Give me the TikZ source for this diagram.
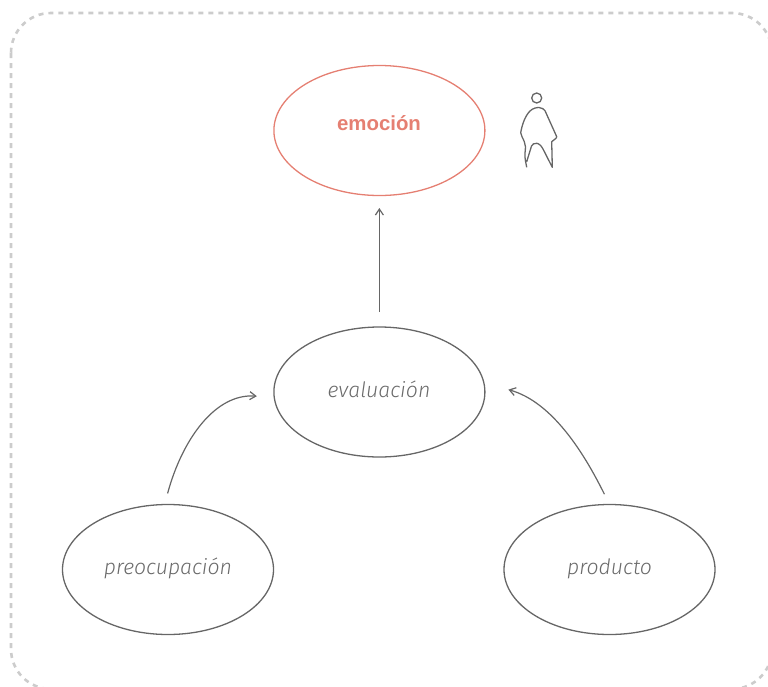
\documentclass[tikz,border=0pt]{standalone}
\usepackage{fontspec}
\setmainfont{Liberation Sans}
\newfontfamily\labfont[ItalicFont={Fira Sans Light Italic}]{Fira Sans Light}
\usetikzlibrary{arrows.meta,shapes.geometric}
\definecolor{ink}{HTML}{666666}
\definecolor{labink}{HTML}{6A6A6A}
\definecolor{red1}{HTML}{E57F72}
\definecolor{frame}{HTML}{CCCCCC}
\tikzset{
  bub/.style={ellipse,draw=ink,line width=1.3pt,minimum width=211pt,minimum height=130pt,inner sep=0pt,outer sep=0pt},
  hot/.style={bub,draw=red1},
  txt/.style={font=\labfont\itshape\fontsize{21.2}{24}\selectfont,text=labink,inner sep=0pt},
  hottxt/.style={font=\bfseries\fontsize{20.4}{24}\selectfont,text=red1,inner sep=0pt},
  con/.style={draw=ink,line width=1.2pt,-{Straight Barb[length=6pt,width=8pt]}},
  fig/.style={draw=ink,line width=1.3pt,line join=round}
}
\begin{document}
\begin{tikzpicture}[x=1pt,y=-1pt]
\useasboundingbox (0,0) rectangle (768,686);
\begin{scope}
\clip (0,0) rectangle (768,686);
\draw[frame,line width=2.6pt,dash pattern=on 5pt off 5pt,rounded corners=40pt] (11,13) rectangle (772,689);
\end{scope}
\node[hot] (emo) at (379.4,130.5) {};
\node[bub] (eva) at (379.4,392) {};
\node[bub] (pre) at (168,569.5) {};
\node[bub] (pro) at (609.5,569.5) {};
\node[hottxt] (emot) at (379,123.5) {emoción};
\node[txt] (evat) at (379,389.5) {evaluación};
\node[txt] (pret) at (168,568.5) {preocupación};
\node[txt] (prot) at (609.5,568.5) {producto};
\draw[con,shorten <=15pt,shorten >=12.5pt] (eva.north) -- (emo.south);
\draw[con,shorten <=11.5pt,shorten >=17.5pt] (pre.93) .. controls (182,440) and (215,393) .. (eva.183);
\draw[con,shorten <=11.5pt,shorten >=25.5pt] (pro.90) .. controls (585,455) and (553,402) .. (eva.5);
\node[circle,draw=ink,line width=1.3pt,minimum size=10pt,inner sep=0pt] (head) at (536.7,98) {};
\draw[fig] (526.7,167.3) .. controls (526,163) and (524.5,158) .. (525,153)
  .. controls (525.5,148) and (526,145) .. (524.3,141.7)
  .. controls (523,138) and (521,136) .. (520.7,132.7)
  .. controls (522,125) and (525,116) .. (530,111)
  .. controls (533,108) and (537,107.5) .. (539,107.5)
  .. controls (542,108) and (544,109) .. (545,110.7)
  -- (556.7,136.7) -- (556,138.3) -- (551.7,141.7)
  -- (552.3,167.3)
  -- (543,149)
  .. controls (541,145) and (538,143.3) .. (536.7,143.3)
  .. controls (534,143.3) and (532.5,144) .. (531.5,146)
  -- (526.7,161.7);
\end{tikzpicture}
\end{document}
